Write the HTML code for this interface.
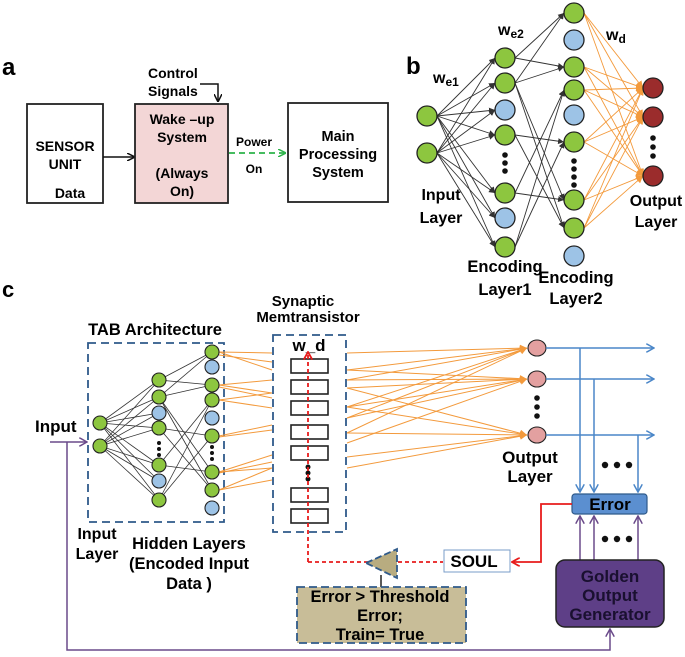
<!DOCTYPE html>
<html><head><meta charset="utf-8"><style>
html,body{margin:0;padding:0;background:#fff;}
svg{display:block;font-family:"Liberation Sans",Arial,sans-serif;font-weight:bold;}
</style></head><body>
<svg width="685" height="657" viewBox="0 0 685 657" xmlns="http://www.w3.org/2000/svg">
<defs>
<marker id="ak" markerWidth="8" markerHeight="8" refX="7" refY="4" orient="auto" markerUnits="userSpaceOnUse"><path d="M0,0 L8,4 L0,8" fill="none" stroke="#111" stroke-width="1.5"/></marker>
<marker id="ag" markerWidth="8" markerHeight="8" refX="7" refY="4" orient="auto" markerUnits="userSpaceOnUse"><path d="M0,0 L8,4 L0,8" fill="none" stroke="#2db34a" stroke-width="1.5"/></marker>
<marker id="as" markerWidth="6" markerHeight="6" refX="6" refY="3" orient="auto" markerUnits="userSpaceOnUse"><path d="M0,0 L6,3 L0,6z" fill="#333"/></marker>
<marker id="ao" markerWidth="7" markerHeight="7" refX="7" refY="3.5" orient="auto" markerUnits="userSpaceOnUse"><path d="M0,0 L7,3.5 L0,7z" fill="#f39a3c"/></marker>
<marker id="ab" markerWidth="9" markerHeight="9" refX="8" refY="4.5" orient="auto" markerUnits="userSpaceOnUse"><path d="M0,0 L8,4.5 L0,9" fill="none" stroke="#4a86c8" stroke-width="1.5"/></marker>
<marker id="ap" markerWidth="9" markerHeight="9" refX="8" refY="4.5" orient="auto" markerUnits="userSpaceOnUse"><path d="M0,0 L8,4.5 L0,9" fill="none" stroke="#6a4a8a" stroke-width="1.5"/></marker>
<marker id="ar" markerWidth="9" markerHeight="9" refX="8" refY="4.5" orient="auto" markerUnits="userSpaceOnUse"><path d="M0,0 L8,4.5 L0,9" fill="none" stroke="#e81c1c" stroke-width="1.8"/></marker>
</defs>

<!-- ===== a ===== -->
<text x="2" y="75" font-size="24">a</text>
<text x="148" y="78" font-size="14">Control</text>
<text x="148" y="96" font-size="14">Signals</text>
<polyline points="200,84 218,84 218,101" fill="none" stroke="#111" stroke-width="1.5" marker-end="url(#ak)"/>
<rect x="27" y="104" width="76" height="99" fill="#fff" stroke="#222" stroke-width="1.8"/>
<text x="65" y="151" font-size="14" text-anchor="middle">SENSOR</text>
<text x="65" y="169" font-size="14" text-anchor="middle">UNIT</text>
<text x="70" y="198" font-size="14" text-anchor="middle">Data</text>
<line x1="103" y1="157" x2="134" y2="157" stroke="#111" stroke-width="1.5" marker-end="url(#ak)"/>
<rect x="135" y="104" width="93" height="99" fill="#f3d6d6" stroke="#222" stroke-width="1.8"/>
<text x="182" y="124" font-size="14" text-anchor="middle">Wake –up</text>
<text x="182" y="142" font-size="14" text-anchor="middle">System</text>
<text x="182" y="178" font-size="14" text-anchor="middle">(Always</text>
<text x="182" y="196" font-size="14" text-anchor="middle">On)</text>
<line x1="229" y1="153" x2="285" y2="153" stroke="#2db34a" stroke-width="1.8" stroke-dasharray="6,4" marker-end="url(#ag)"/>
<text x="254" y="146" font-size="12" text-anchor="middle">Power</text>
<text x="254" y="173" font-size="12" text-anchor="middle">On</text>
<rect x="288" y="103" width="100" height="99" fill="#fff" stroke="#222" stroke-width="1.8"/>
<text x="338" y="141" font-size="14.5" text-anchor="middle">Main</text>
<text x="338" y="159" font-size="14.5" text-anchor="middle">Processing</text>
<text x="338" y="177" font-size="14.5" text-anchor="middle">System</text>

<!-- ===== b ===== -->
<text x="406" y="74" font-size="24">b</text>
<text x="433" y="83" font-size="16">w<tspan font-size="12" dy="3">e1</tspan></text>
<text x="498" y="35" font-size="16">w<tspan font-size="12" dy="3">e2</tspan></text>
<text x="606" y="40" font-size="16">w<tspan font-size="12" dy="3">d</tspan></text>
<g stroke="#333" stroke-width="0.9" marker-end="url(#as)">
<line x1="437" y1="116" x2="495" y2="58"/><line x1="437" y1="116" x2="495" y2="83"/><line x1="437" y1="116" x2="495" y2="110"/><line x1="437" y1="116" x2="495" y2="135"/><line x1="437" y1="116" x2="495" y2="193"/><line x1="437" y1="116" x2="495" y2="218"/><line x1="437" y1="116" x2="495" y2="247"/>
<line x1="437" y1="153" x2="495" y2="58"/><line x1="437" y1="153" x2="495" y2="83"/><line x1="437" y1="153" x2="495" y2="110"/><line x1="437" y1="153" x2="495" y2="135"/><line x1="437" y1="153" x2="495" y2="193"/><line x1="437" y1="153" x2="495" y2="218"/><line x1="437" y1="153" x2="495" y2="247"/>
<line x1="515" y1="58" x2="564" y2="13"/><line x1="515" y1="58" x2="564" y2="67"/><line x1="515" y1="83" x2="564" y2="13"/><line x1="515" y1="83" x2="564" y2="67"/><line x1="515" y1="83" x2="564" y2="200"/><line x1="515" y1="83" x2="564" y2="228"/>
<line x1="515" y1="135" x2="564" y2="142"/><line x1="515" y1="193" x2="564" y2="90"/><line x1="515" y1="193" x2="564" y2="200"/><line x1="515" y1="247" x2="564" y2="90"/><line x1="515" y1="247" x2="564" y2="142"/><line x1="515" y1="135" x2="564" y2="228"/>
</g>
<g stroke="#f39a3c" stroke-width="0.9" marker-end="url(#ao)">
<line x1="584" y1="13" x2="643" y2="88"/><line x1="584" y1="13" x2="643" y2="117"/><line x1="584" y1="13" x2="643" y2="176"/>
<line x1="584" y1="67" x2="643" y2="88"/><line x1="584" y1="67" x2="643" y2="117"/><line x1="584" y1="67" x2="643" y2="176"/>
<line x1="584" y1="90" x2="643" y2="88"/><line x1="584" y1="90" x2="643" y2="117"/><line x1="584" y1="90" x2="643" y2="176"/>
<line x1="584" y1="142" x2="643" y2="88"/><line x1="584" y1="142" x2="643" y2="117"/><line x1="584" y1="142" x2="643" y2="176"/>
<line x1="584" y1="200" x2="643" y2="88"/><line x1="584" y1="200" x2="643" y2="117"/><line x1="584" y1="200" x2="643" y2="176"/>
<line x1="584" y1="228" x2="643" y2="88"/><line x1="584" y1="228" x2="643" y2="117"/><line x1="584" y1="228" x2="643" y2="176"/>
</g>
<g stroke="#222" stroke-width="1.3">
<circle cx="427" cy="116" r="10" fill="#8dc63f"/><circle cx="427" cy="153" r="10" fill="#8dc63f"/>
<circle cx="505" cy="58" r="10" fill="#8dc63f"/><circle cx="505" cy="83" r="10" fill="#8dc63f"/><circle cx="505" cy="110" r="10" fill="#9dc3e6"/><circle cx="505" cy="135" r="10" fill="#8dc63f"/><circle cx="505" cy="193" r="10" fill="#8dc63f"/><circle cx="505" cy="218" r="10" fill="#9dc3e6"/><circle cx="505" cy="247" r="10" fill="#8dc63f"/>
<circle cx="574" cy="13" r="10" fill="#8dc63f"/><circle cx="574" cy="40" r="10" fill="#9dc3e6"/><circle cx="574" cy="67" r="10" fill="#8dc63f"/><circle cx="574" cy="90" r="10" fill="#8dc63f"/><circle cx="574" cy="115" r="10" fill="#9dc3e6"/><circle cx="574" cy="142" r="10" fill="#8dc63f"/><circle cx="574" cy="200" r="10" fill="#8dc63f"/><circle cx="574" cy="228" r="10" fill="#8dc63f"/><circle cx="574" cy="256" r="10" fill="#9dc3e6"/>
<circle cx="653" cy="88" r="10" fill="#9b2c2c"/><circle cx="653" cy="117" r="10" fill="#9b2c2c"/><circle cx="653" cy="176" r="10" fill="#9b2c2c"/>
</g>
<g fill="#111">
<circle cx="505" cy="155" r="2.8"/><circle cx="505" cy="163" r="2.8"/><circle cx="505" cy="171" r="2.8"/>
<circle cx="574" cy="161" r="2.8"/><circle cx="574" cy="169" r="2.8"/><circle cx="574" cy="177" r="2.8"/><circle cx="574" cy="185" r="2.8"/>
<circle cx="653" cy="138" r="2.8"/><circle cx="653" cy="147" r="2.8"/><circle cx="653" cy="156" r="2.8"/>
</g>
<text x="441" y="200" font-size="16" text-anchor="middle">Input</text>
<text x="441" y="223" font-size="16" text-anchor="middle">Layer</text>
<text x="505" y="272" font-size="16.5" text-anchor="middle">Encoding</text>
<text x="505" y="295" font-size="16.5" text-anchor="middle">Layer1</text>
<text x="576" y="283" font-size="16.5" text-anchor="middle">Encoding</text>
<text x="576" y="304" font-size="16.5" text-anchor="middle">Layer2</text>
<text x="656" y="206" font-size="16" text-anchor="middle">Output</text>
<text x="656" y="227" font-size="16" text-anchor="middle">Layer</text>

<!-- ===== c ===== -->
<text x="2" y="297" font-size="22">c</text>
<text x="303" y="306" font-size="15" text-anchor="middle">Synaptic</text>
<text x="308" y="322" font-size="15" text-anchor="middle">Memtransistor</text>
<text x="155" y="335" font-size="16.5" text-anchor="middle">TAB Architecture</text>
<rect x="88" y="343" width="136" height="179" fill="none" stroke="#2f5a8a" stroke-width="1.8" stroke-dasharray="8,5"/>
<text x="35" y="432" font-size="17">Input</text>
<line x1="50" y1="442" x2="87" y2="442" stroke="#6a4a8a" stroke-width="1.5" marker-end="url(#ap)"/>
<polyline points="67,442 67,650 610,650 610,629" fill="none" stroke="#6a4a8a" stroke-width="1.5" marker-end="url(#ap)"/>
<text x="97" y="539" font-size="16" text-anchor="middle">Input</text>
<text x="97" y="559" font-size="16" text-anchor="middle">Layer</text>
<text x="189" y="549" font-size="16.5" text-anchor="middle">Hidden Layers</text>
<text x="189" y="569" font-size="16.5" text-anchor="middle">(Encoded Input</text>
<text x="189" y="589" font-size="16.5" text-anchor="middle">Data )</text>
<g stroke="#333" stroke-width="0.8">
<line x1="100" y1="423" x2="159" y2="380"/><line x1="100" y1="423" x2="159" y2="397"/><line x1="100" y1="423" x2="159" y2="413"/><line x1="100" y1="423" x2="159" y2="428"/><line x1="100" y1="423" x2="159" y2="465"/><line x1="100" y1="423" x2="159" y2="481"/><line x1="100" y1="423" x2="159" y2="500"/>
<line x1="100" y1="446" x2="159" y2="380"/><line x1="100" y1="446" x2="159" y2="397"/><line x1="100" y1="446" x2="159" y2="413"/><line x1="100" y1="446" x2="159" y2="428"/><line x1="100" y1="446" x2="159" y2="465"/><line x1="100" y1="446" x2="159" y2="481"/><line x1="100" y1="446" x2="159" y2="500"/>
<line x1="159" y1="380" x2="212" y2="352"/><line x1="159" y1="380" x2="212" y2="385"/><line x1="159" y1="397" x2="212" y2="352"/><line x1="159" y1="397" x2="212" y2="385"/><line x1="159" y1="397" x2="212" y2="472"/><line x1="159" y1="397" x2="212" y2="490"/>
<line x1="159" y1="428" x2="212" y2="436"/><line x1="159" y1="465" x2="212" y2="400"/><line x1="159" y1="465" x2="212" y2="472"/><line x1="159" y1="500" x2="212" y2="400"/><line x1="159" y1="500" x2="212" y2="436"/><line x1="159" y1="428" x2="212" y2="490"/>
</g>
<g stroke="#f39a3c" stroke-width="1">
<line x1="219" y1="352" x2="272" y2="353"/><line x1="219" y1="352" x2="272" y2="370"/><line x1="219" y1="355" x2="272" y2="362"/>
<line x1="219" y1="385" x2="272" y2="380"/><line x1="219" y1="385" x2="272" y2="393"/><line x1="219" y1="387" x2="272" y2="398"/>
<line x1="219" y1="400" x2="272" y2="393"/><line x1="219" y1="400" x2="272" y2="408"/>
<line x1="219" y1="436" x2="272" y2="425"/><line x1="219" y1="437" x2="272" y2="430"/>
<line x1="219" y1="472" x2="272" y2="455"/><line x1="219" y1="472" x2="272" y2="468"/><line x1="219" y1="473" x2="272" y2="462"/>
<line x1="219" y1="490" x2="272" y2="468"/><line x1="219" y1="490" x2="272" y2="480"/>
</g>
<g stroke="#f39a3c" stroke-width="1" marker-end="url(#ao)">
<line x1="347" y1="353" x2="527" y2="348"/><line x1="347" y1="370" x2="527" y2="348"/><line x1="347" y1="370" x2="527" y2="379"/><line x1="347" y1="380" x2="527" y2="348"/><line x1="347" y1="380" x2="527" y2="379"/><line x1="347" y1="388" x2="527" y2="435"/>
<line x1="347" y1="407" x2="527" y2="348"/><line x1="347" y1="407" x2="527" y2="379"/><line x1="347" y1="407" x2="527" y2="435"/><line x1="347" y1="418" x2="527" y2="348"/><line x1="347" y1="418" x2="527" y2="379"/>
<line x1="347" y1="433" x2="527" y2="348"/><line x1="347" y1="433" x2="527" y2="435"/><line x1="347" y1="443" x2="527" y2="379"/><line x1="347" y1="457" x2="527" y2="435"/><line x1="347" y1="468" x2="527" y2="435"/><line x1="347" y1="388" x2="527" y2="379"/>
</g>
<g stroke="#222" stroke-width="1.1">
<circle cx="100" cy="423" r="7" fill="#8dc63f"/><circle cx="100" cy="446" r="7" fill="#8dc63f"/>
<circle cx="159" cy="380" r="7" fill="#8dc63f"/><circle cx="159" cy="397" r="7" fill="#8dc63f"/><circle cx="159" cy="413" r="7" fill="#9dc3e6"/><circle cx="159" cy="428" r="7" fill="#8dc63f"/><circle cx="159" cy="465" r="7" fill="#8dc63f"/><circle cx="159" cy="481" r="7" fill="#9dc3e6"/><circle cx="159" cy="500" r="7" fill="#8dc63f"/>
<circle cx="212" cy="352" r="7" fill="#8dc63f"/><circle cx="212" cy="367" r="7" fill="#9dc3e6"/><circle cx="212" cy="385" r="7" fill="#8dc63f"/><circle cx="212" cy="400" r="7" fill="#8dc63f"/><circle cx="212" cy="418" r="7" fill="#9dc3e6"/><circle cx="212" cy="436" r="7" fill="#8dc63f"/><circle cx="212" cy="472" r="7" fill="#8dc63f"/><circle cx="212" cy="490" r="7" fill="#8dc63f"/><circle cx="212" cy="508" r="7" fill="#9dc3e6"/>
<ellipse cx="537" cy="348" rx="9" ry="8" fill="#e3a0a0"/><ellipse cx="537" cy="379" rx="9" ry="8" fill="#e3a0a0"/><ellipse cx="537" cy="435" rx="9" ry="8" fill="#e3a0a0"/>
</g>
<g fill="#111">
<circle cx="159" cy="443" r="2"/><circle cx="159" cy="449" r="2"/><circle cx="159" cy="455" r="2"/>
<circle cx="212" cy="447" r="2"/><circle cx="212" cy="453" r="2"/><circle cx="212" cy="459" r="2"/>
<circle cx="537" cy="398" r="2.8"/><circle cx="537" cy="407" r="2.8"/><circle cx="537" cy="416" r="2.8"/>
</g>
<!-- memtransistor -->
<rect x="273" y="335" width="73" height="197" fill="none" stroke="#2f5a8a" stroke-width="1.8" stroke-dasharray="8,5"/>
<text x="309" y="351" font-size="17" text-anchor="middle">w_d</text>
<g fill="#fff" stroke="#222" stroke-width="1.6">
<rect x="291" y="359" width="37" height="14"/><rect x="291" y="380" width="37" height="14"/><rect x="291" y="401" width="37" height="14"/><rect x="291" y="425" width="37" height="14"/><rect x="291" y="446" width="37" height="14"/><rect x="291" y="488" width="37" height="14"/><rect x="291" y="509" width="37" height="14"/>
</g>
<g fill="#111"><circle cx="308" cy="467" r="2.5"/><circle cx="308" cy="473" r="2.5"/><circle cx="308" cy="479" r="2.5"/></g>
<polyline points="308,562 308,352" fill="none" stroke="#e81c1c" stroke-width="1.8" stroke-dasharray="4,3" marker-end="url(#ar)"/>
<polyline points="308,562 368,562" fill="none" stroke="#e81c1c" stroke-width="1.8" stroke-dasharray="4,3"/>
<line x1="398" y1="562" x2="443" y2="562" stroke="#e81c1c" stroke-width="1.8" stroke-dasharray="4,3"/>
<line x1="381" y1="575" x2="381" y2="588" stroke="#222" stroke-width="1.5"/>
<polygon points="366,563 397,549 397,578" fill="#b8ac80" stroke="#2f5a8a" stroke-width="1.8" stroke-dasharray="7,3"/>
<rect x="444" y="550" width="66" height="22" fill="#fff" stroke="#7a9cc8" stroke-width="1"/>
<text x="474" y="567" font-size="17" text-anchor="middle">SOUL</text>
<rect x="297" y="587" width="169" height="56" fill="#c8bd98" stroke="#2f5a8a" stroke-width="1.8" stroke-dasharray="8,4"/>
<text x="380" y="602" font-size="16.5" text-anchor="middle">Error &gt; Threshold</text>
<text x="380" y="621" font-size="16.5" text-anchor="middle">Error;</text>
<text x="380" y="640" font-size="16.5" text-anchor="middle">Train= True</text>
<text x="530" y="463" font-size="17" text-anchor="middle">Output</text>
<text x="530" y="482" font-size="17" text-anchor="middle">Layer</text>
<!-- blue -->
<g stroke="#4a86c8" stroke-width="1.5" fill="none">
<line x1="546" y1="348" x2="654" y2="348" marker-end="url(#ab)"/>
<line x1="546" y1="379" x2="654" y2="379" marker-end="url(#ab)"/>
<line x1="546" y1="435" x2="654" y2="435" marker-end="url(#ab)"/>
<line x1="580" y1="348" x2="580" y2="492" marker-end="url(#ab)"/>
<line x1="594" y1="379" x2="594" y2="492" marker-end="url(#ab)"/>
<line x1="638" y1="435" x2="638" y2="492" marker-end="url(#ab)"/>
</g>
<g fill="#111"><circle cx="605" cy="465" r="3.2"/><circle cx="617" cy="465" r="3.2"/><circle cx="629" cy="465" r="3.2"/>
<circle cx="605" cy="539" r="3.2"/><circle cx="617" cy="539" r="3.2"/><circle cx="629" cy="539" r="3.2"/></g>
<rect x="572" y="494" width="75" height="20" rx="3" fill="#5b8fd0" stroke="#2f5a8a" stroke-width="1.2"/>
<text x="610" y="510" font-size="17" text-anchor="middle">Error</text>
<polyline points="572,504 541,504 541,562 512,562" fill="none" stroke="#e81c1c" stroke-width="1.8" marker-end="url(#ar)"/>
<g stroke="#6a4a8a" stroke-width="1.5">
<line x1="580" y1="560" x2="580" y2="516" marker-end="url(#ap)"/>
<line x1="594" y1="560" x2="594" y2="516" marker-end="url(#ap)"/>
<line x1="638" y1="560" x2="638" y2="516" marker-end="url(#ap)"/>
</g>
<rect x="556" y="560" width="108" height="67" rx="9" fill="#5e3f87" stroke="#222" stroke-width="1.5"/>
<text x="610" y="582" font-size="17" text-anchor="middle" fill="#1a1030">Golden</text>
<text x="610" y="601" font-size="17" text-anchor="middle" fill="#1a1030">Output</text>
<text x="610" y="620" font-size="17" text-anchor="middle" fill="#1a1030">Generator</text>
</svg>
</body></html>
